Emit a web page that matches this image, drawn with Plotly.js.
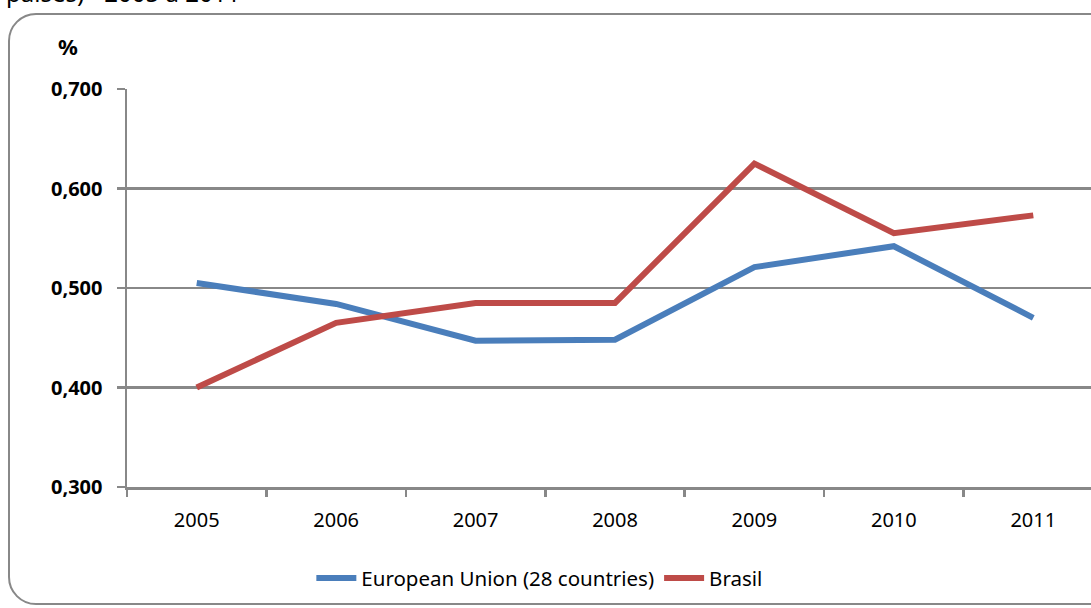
<!DOCTYPE html>
<html>
<head>
<meta charset="utf-8">
<script src="https://cdn.plot.ly/plotly-3.0.1.min.js"></script>
<style>
html,body{margin:0;padding:0;background:#fff;overflow:hidden;width:1091px;height:608px;}
#frame{position:absolute;left:8px;top:13px;width:1120px;height:592px;border:2.5px solid #888;border-radius:28px;box-sizing:border-box;}
#cap{position:absolute;left:6px;top:-24px;font-family:"Noto Sans",sans-serif;font-size:24px;line-height:33px;color:#000;white-space:nowrap;}
#chart{position:absolute;left:0;top:0;}
</style>
</head>
<body>
<div id="cap">países) - 2005 a 2011</div>
<div id="frame"></div>
<div id="chart"></div>
<script>
const years = ["2005","2006","2007","2008","2009","2010","2011"];
const euValues = [0.505, 0.484, 0.447, 0.448, 0.521, 0.542, 0.470];
const brValues = [0.400, 0.465, 0.485, 0.485, 0.625, 0.555, 0.573];
const yTicks = [0.3, 0.4, 0.5, 0.6, 0.7];
const yTickText = ["0,300", "0,400", "0,500", "0,600", "0,700"];

const traces = [
  {x: years, y: euValues, type: "scatter", mode: "lines", name: "European Union (28 countries)",
   line: {color: "#4A7EBB", width: 6}},
  {x: years, y: brValues, type: "scatter", mode: "lines", name: "Brasil",
   line: {color: "#BE4B48", width: 6}}
];

const layout = {
  width: 1110, height: 608,
  margin: {l: 127, r: 7, t: 89, b: 121},
  paper_bgcolor: "rgba(0,0,0,0)",
  plot_bgcolor: "rgba(0,0,0,0)",
  font: {family: "Noto Sans, sans-serif", color: "#000"},
  showlegend: true,
  legend: {orientation: "h", x: 0.423, xanchor: "center", y: -0.229, yanchor: "middle",
           font: {size: 20.5}, itemwidth: 40, tracegroupgap: 0},
  xaxis: {
    type: "category", range: [-0.5, 6.5],
    tickson: "boundaries", ticks: "outside", ticklen: 7, tickwidth: 2.5, tickcolor: "#888",
    showline: true, linecolor: "#888", linewidth: 2.5,
    showgrid: false, tickfont: {size: 20}, ticklabelstandoff: 13
  },
  yaxis: {
    range: [0.3, 0.7], tickvals: yTicks, ticktext: yTickText,
    ticks: "outside", ticklen: 8, tickwidth: 2.5, tickcolor: "#888",
    showline: true, linecolor: "#888", linewidth: 2.5,
    showgrid: true, gridcolor: "#888", gridwidth: 2.5,
    zeroline: false, tickfont: {size: 20, weight: "bold"}, ticklabelstandoff: 10
  },
  annotations: [
    {text: "<b>%</b>", xref: "paper", yref: "paper", x: -0.06, y: 1.108, xanchor: "center", yanchor: "middle",
     showarrow: false, font: {size: 22}}
  ]
};

Plotly.newPlot("chart", traces, layout, {displayModeBar: false, staticPlot: true});
</script>
</body>
</html>
